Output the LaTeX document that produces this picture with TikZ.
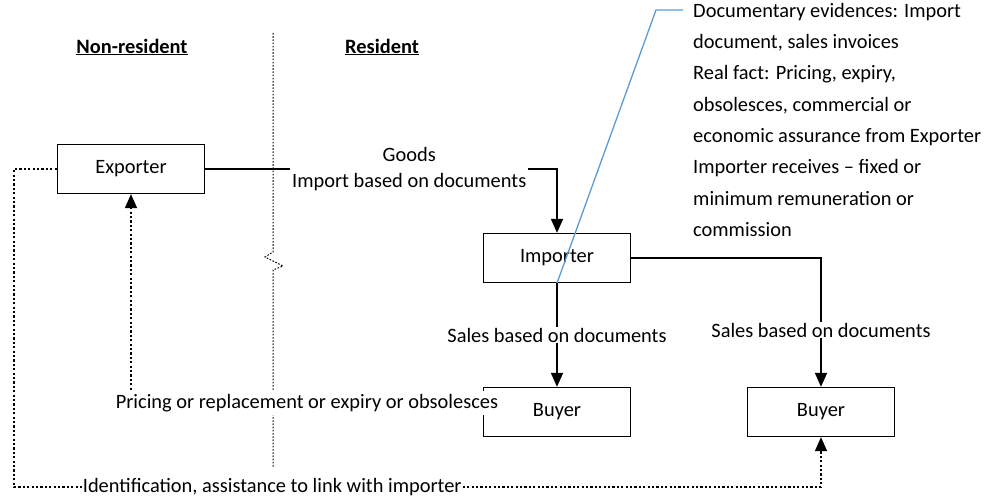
\documentclass[tikz,border=0pt]{standalone}
\usepackage{fontspec}
\setmainfont{Carlito}
\usetikzlibrary{arrows.meta}
\definecolor{callblue}{HTML}{5B9BD5}
\tikzset{
  box/.style={draw=black, line width=1.3pt, fill=white, minimum width=147pt, minimum height=49pt, inner sep=0pt, font=\fontsize{20.4}{24}\selectfont},
  flow/.style={line width=1.8pt, -{Triangle[width=12pt,length=14pt]}},
  dotflow/.style={line width=1.6pt, dash pattern=on 2.2pt off 2.2pt, -{Triangle[width=12pt,length=14pt]}},
  lab/.style={fill=white, inner sep=2pt, font=\fontsize{20.4}{26}\selectfont, align=center},
  head/.style={font=\fontsize{20.4}{24}\selectfont\bfseries},
  sep/.style={line width=1pt, dash pattern=on 1.6pt off 1.6pt},
}
\begin{document}
\begin{tikzpicture}[x=1pt,y=-1pt]
\useasboundingbox (0,0) rectangle (990,500);
% headings
\node[head] (hnr) at (132,47) {\underline{Non-resident}};
\node[head] (hr) at (382,47) {\underline{Resident}};
% separator
\draw[sep] (273,33) -- (273,252) -- (265,257) -- (283,266) -- (273,270) -- (273,468);
% boxes
\node[box] (exp) at (131,169) {Exporter};
\node[box] (imp) at (557,258) {Importer};
\node[box] (b1) at (557,412) {Buyer};
\node[box] (b2) at (821,412) {Buyer};
% callout
\coordinate (ct) at (656,10);
\coordinate (ce) at (683,10);
\draw[callblue, line width=1.3pt] (imp.south) -- (ct) -- (ce);
\node[anchor=north west, inner sep=0pt, align=left, font=\fontsize{20.4}{31.3}\selectfont] (note) at (693,3)
{Documentary evidences: Import\\ document, sales invoices\\ Real fact: Pricing, expiry,\\ obsolesces, commercial or\\ economic assurance from Exporter\\ Importer receives -- fixed or\\ minimum remuneration or\\ commission};
% solid flows
\draw[flow] (exp.east) -| node[lab, pos=0.29] {Goods\\ Import based on documents} (imp.north);
\draw[flow] (imp.south) -- node[lab, pos=0.5, inner ysep=1pt] {Sales based on documents} (b1.north);
\draw[flow] (imp.east) -| node[lab, pos=0.78, inner ysep=1pt] {Sales based on documents} (b2.north);
% dotted flows
\draw[dotflow] (b1.west) -| node[lab, pos=0.25, yshift=9pt, inner ysep=3.5pt] {Pricing or replacement or expiry or obsolesces} (exp.south);
\coordinate (c1) at (14,487);
\draw[dotflow] (exp.west) -| (c1) -| node[lab, pos=0.16, inner ysep=0pt, inner xsep=1pt] {Identification, assistance to link with importer} (b2.south);
\end{tikzpicture}
\end{document}
